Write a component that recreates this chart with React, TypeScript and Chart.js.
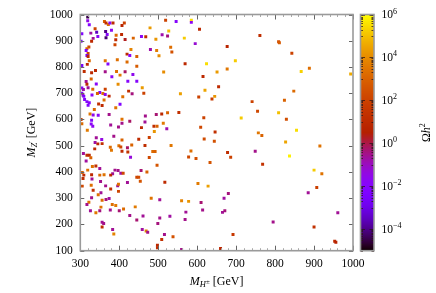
import React, { useEffect, useRef } from "react";
import { Chart, registerables } from "chart.js";

Chart.register(...registerables);

// M_{H±} [GeV]
const mHpm = [
  // right part
  606, 761, 677, 809, 811, 843, 624, 698, 651, 677,
  867, 888, 994, 615, 655, 620, 604, 638, 645, 848,
  741, 824, 755, 809, 713, 829, 617, 609, 646, 757,
  855, 766, 618, 644, 827, 915, 678, 686, 749, 768,
  837, 900, 920, 633, 602, 628, 907, 885, 680, 669,
  610, 614, 665, 671, 961, 795, 900, 692, 660, 953,
  956,
  // middle part
  413, 407, 519, 546, 585, 585, 479, 527, 510, 524,
  406, 415, 436, 457, 468, 494, 567, 595, 480, 496,
  430, 532, 535, 420, 427, 445, 502, 420, 569, 445,
  402, 415, 435, 514, 422, 445, 397, 459, 424, 433,
  463, 409, 557, 402, 524, 553, 467, 495, 509, 407,
  427, 466, 407, 513, 398, 457, 489, 497, 522, 490,
  407, 450, 477, 399, 404, 432, 466, 533, 407, 421,
  422, 429, 486, 492, 477, 584, 578, 597, 497, 397,
  404, 410, 456, 471, 445, 450, 454, 421, 517, 398,
  482, 504, 560, 578, 400, 411, 441, 427, 461, 445,
  504, 530, 571, 569, 499, 459, 469, 473, 516, 538,
  509, 498, 498, 560,
  // left strip
  319, 319, 323, 362, 366, 372, 376, 384, 392, 304,
  327, 338, 342, 345, 333, 366, 365, 380, 369, 302,
  329, 391, 322, 317, 315, 389, 320, 317, 320, 323,
  364, 395, 371, 304, 318, 310, 329, 339, 364, 393,
  381, 328, 315, 317, 304, 308, 320, 332, 364,
  341, 350, 358, 304, 307, 309, 311, 317, 330, 344,
  364, 374, 361, 323, 320, 347, 356, 336, 391, 325,
  333, 346, 374, 302, 304, 329, 328, 332, 378, 318,
  341, 355, 386, 338, 345, 356, 377, 380, 337, 308,
  317, 323, 327, 315, 340, 350, 331, 389, 305, 319,
  309, 307, 305, 329, 330, 328, 333, 322, 317, 326,
  340, 350, 353, 329, 353, 356, 366, 374, 346, 365,
  350, 352, 361, 356, 356, 360, 386, 383, 382, 391,
  377, 378, 396, 398, 383, 378,
];

// M_{Z'} [GeV]
const mZp = [
  944, 920, 878, 896, 892, 852, 812, 824, 781, 792,
  783, 795, 773, 764, 725, 711, 686, 678, 688, 708,
  668, 673, 631, 626, 606, 601, 607, 570, 552, 549,
  559, 539, 526, 517, 514, 499, 474, 456, 479, 429,
  461, 407, 393, 436, 356, 346, 341, 321, 318, 300,
  284, 255, 246, 252, 245, 209, 190, 162, 108, 136,
  132,
  968, 958, 978, 973, 978, 970, 949, 937, 923, 918,
  924, 905, 910, 916, 915, 906, 910, 889, 867, 863,
  867, 875, 857, 849, 844, 840, 843, 819, 812, 803,
  769, 782, 771, 781, 746, 746, 734, 721, 708, 698,
  700, 687, 698, 658, 626, 627, 613, 619, 621, 601,
  593, 590, 586, 586, 571, 569, 574, 574, 565, 554,
  522, 525, 531, 500, 495, 503, 501, 501, 479, 492,
  476, 456, 478, 478, 455, 480, 457, 451, 426, 406,
  395, 395, 406, 400, 380, 380, 365, 360, 361, 326,
  300, 294, 290, 288, 252, 259, 267, 234, 232, 217,
  225, 231, 247, 219, 204, 181, 175, 170, 162, 153,
  143, 121, 111, 105,
  990, 976, 961, 973, 968, 962, 968, 968, 921, 927,
  929, 946, 932, 916, 909, 911, 935, 940, 924, 898,
  898, 904, 876, 870, 863, 885, 851, 844, 840, 824,
  824, 828, 811, 806, 810, 783, 778, 787, 782, 783,
  763, 754, 745, 734, 720, 714, 721, 715, 715,
  735, 703, 699, 700, 692, 688, 676, 668, 693, 699,
  695, 689, 674, 664, 654, 659, 653, 638, 645, 621,
  617, 616, 619, 600, 584, 597, 583, 574, 579, 559,
  530, 524, 536, 512, 507, 508, 494, 483, 488, 470,
  464, 464, 454, 442, 423, 413, 421, 407, 398, 407,
  388, 375, 346, 389, 373, 349, 330, 285, 276, 252,
  245, 252, 266, 302, 321, 292, 295, 299, 313, 347,
  388, 364, 389, 208, 190, 204, 164, 181, 276, 272,
  255, 335, 347, 353, 393, 388,
];

// log10(Omega h^2)
const logOmegaH2 = [
  1, 1.2, 0.8, 2.3, 2.8, 2, 5.5, 5.2, 4.3, 3.5,
  5.3, 3.3, 4.6, 1, 1.1, 4.5, 2, 1.8, 4.2, 3.2,
  2, 3, 2.2, 5, 5.2, 2.4, 2, 2.2, 1.3, 3.5,
  5.5, 3, 2.3, 2.5, 4.5, 3.4, 1.2, 2, -0.5, 1.4,
  5.8, 5.2, 3.4, 2.6, 3.6, 4.4, 1.9, -0.6, -0.4, -0.7,
  -0.3, -0.5, -0.6, -0.4, -0.6, -0.5, 1.3, 1.6, 0.9, 1.1,
  0.7,
  2, 0.8, 2, -2, 5.5, -1.7, 4.3, 5, -0.8, -0.4,
  1, 0.3, 3, -1.8, 1.1, 4.2, 5.2, -1.2, -0.8, 3.6,
  3.8, 3.3, 2.5, 1, -1.8, 3, 4, 3.2, 1, 2.8,
  3.5, -0.2, -1.6, 4, -2, -2, 4, 4.3, 1.2, -0.4,
  2, 3.3, 4.4, -2.2, 3, 1.3, -0.5, -0.3, 1, 3.4,
  -0.2, -0.6, -0.5, 3.6, -0.5, 1, 1.2, 3, -0.8, 4.2,
  3, 1.1, 1.9, 3.4, 2.2, 3, 1.2, 3.5, 1.1, -0.2,
  1.4, -1.3, 3.2, 3, 2.2, 3.3, 2.2, 2.4, 2.6, -0.5,
  -0.7, 2.2, -0.3, 3, 2.1, 2.3, 2.6, -0.6, 1.1, 2.1,
  3.4, -0.6, 3.8, 4.2, -0.3, 3.2, 3.6, -0.5, -0.6, -0.3,
  -0.5, -0.7, -0.6, -0.5, -0.4, -0.7, 3.8, -0.5, -0.5, 2.5,
  1.3, 1, 1.2, -0.5,
  -4.5, -1.5, -2, 3, 1.2, 3.3, -1.8, 1, 3.2, -2.2,
  -0.7, 2, -3.5, -1.8, -0.6, -4.2, -4, -1.6, -1.9, -2.2,
  1, 1.1, 2.2, 3, -2, 2.1, 2, -2.5, 1, 3.2,
  3.4, 3.3, -2, -2.6, 1, 1.2, 1, 0.9, -0.5, 3.3,
  -1.7, 3, -0.6, 1, -2.2, -0.8, -0.6, 3.2, 2,
  -1.9, -1.8, 3.3, -2.3, -1, -2.4, -2, -2.1, -1.8, 3,
  -1.6, 1, 3.3, -1.9, -2.2, 1.3, 1.1, 3.1, 3.4, 3.5,
  -1.6, -1.8, -0.5, 1.8, 3.2, -2, -1.8, -1.7, -0.6, 3.6,
  -0.6, -1.4, -0.5, -0.7, 1, 1.2, 3.2, 3.5, 1.1, -0.6,
  1.2, 1, 3, -0.7, 1.3, -0.6, 3.3, -0.5, 3.2, 3.4,
  1.1, 1.2, 2.2, 1, -0.6, 3.3, 1.3, 3.4, -0.5, -0.6,
  3.5, -0.4, 3.4, -0.5, -0.6, 3.2, -0.4, -0.7, 3.3, -0.5,
  3.1, -0.5, 3.4, -0.6, 1.2, -0.5, 3.8, -0.6, 3.3, 3.6,
  -0.5, 1.2, -0.5, 3.4, -0.6, 1,
];

const xTickValues = [300, 400, 500, 600, 700, 800, 900, 1000];
const yTickValues = [100, 200, 300, 400, 500, 600, 700, 800, 900, 1000];
const xMinorStep = 20;
const cbLabelExponents = [6, 4, 2, 0, -2, -4];
const CB_MIN = -5;
const CB_MAX = 6;

const SERIF = "'Liberation Serif', 'DejaVu Serif', serif";

function gnuplotColor(t: number): string {
  const c = Math.min(1, Math.max(0, t));
  const r = Math.sqrt(c);
  const g = c * c * c;
  const b = Math.max(0, Math.sin(2 * Math.PI * c));
  return `rgb(${Math.round(r * 255)},${Math.round(g * 255)},${Math.round(b * 255)})`;
}

type Seg = { text: string; font: string; dy: number };

function segsWidth(ctx: CanvasRenderingContext2D, segs: Seg[]): number {
  let w = 0;
  for (const s of segs) {
    ctx.font = s.font;
    w += ctx.measureText(s.text).width;
  }
  return w;
}

function drawSegs(ctx: CanvasRenderingContext2D, segs: Seg[], x: number, y: number) {
  let cx = x;
  for (const s of segs) {
    ctx.font = s.font;
    ctx.fillText(s.text, cx, y + s.dy);
    cx += ctx.measureText(s.text).width;
  }
}

const decorPlugin = {
  id: "decor",
  afterDraw(chart: any) {
    const ctx: CanvasRenderingContext2D = chart.ctx;
    const a = chart.chartArea;
    const xs = chart.scales.x;
    const ys = chart.scales.y;
    ctx.save();

    // ticks (inward)
    ctx.lineWidth = 1;
    for (let v = xTickValues[0]; v <= xTickValues[xTickValues.length - 1]; v += xMinorStep) {
      const px = Math.round(xs.getPixelForValue(v)) + 0.5;
      const major = xTickValues.includes(v);
      const len = major ? 5 : 2.5;
      ctx.strokeStyle = major ? "#666" : "#aaa";
      ctx.beginPath();
      ctx.moveTo(px, a.bottom);
      ctx.lineTo(px, a.bottom - len);
      ctx.moveTo(px, a.top);
      ctx.lineTo(px, a.top + len);
      ctx.stroke();
    }
    for (const v of yTickValues) {
      const py = Math.round(ys.getPixelForValue(v)) + 0.5;
      ctx.strokeStyle = "#666";
      ctx.beginPath();
      ctx.moveTo(a.left, py);
      ctx.lineTo(a.left + 4, py);
      ctx.moveTo(a.right, py);
      ctx.lineTo(a.right - 4, py);
      ctx.stroke();
    }

    // frame
    ctx.strokeStyle = "#9a9a9a";
    ctx.lineWidth = 1.6;
    ctx.strokeRect(a.left, a.top, a.right - a.left, a.bottom - a.top);

    // colour bar
    const cbx0 = a.right + 7.5;
    const cbx1 = a.right + 21;
    const h = a.bottom - a.top;
    const yForExp = (e: number) => a.bottom - ((e - CB_MIN) / (CB_MAX - CB_MIN)) * h;
    for (let py = Math.floor(a.top); py < a.bottom; py++) {
      const t = (a.bottom - (py + 0.5)) / h;
      ctx.fillStyle = gnuplotColor(t);
      ctx.fillRect(cbx0, py, cbx1 - cbx0, 1);
    }
    ctx.lineWidth = 1;
    ctx.strokeStyle = "rgba(40,20,20,0.75)";
    for (const e of cbLabelExponents) {
      const py = Math.round(yForExp(e)) + 0.5;
      ctx.beginPath();
      ctx.moveTo(cbx0, py);
      ctx.lineTo(cbx0 + 4.5, py);
      ctx.moveTo(cbx1, py);
      ctx.lineTo(cbx1 - 4.5, py);
      ctx.stroke();
      for (let k = 1; k <= 9; k++) {
        const em = e - 1 + Math.log10(k);
        if (em < CB_MIN) continue;
        const pm = Math.round(yForExp(em)) + 0.5;
        ctx.beginPath();
        ctx.moveTo(cbx0, pm);
        ctx.lineTo(cbx0 + 2.5, pm);
        ctx.moveTo(cbx1, pm);
        ctx.lineTo(cbx1 - 2.5, pm);
        ctx.stroke();
      }
    }
    ctx.strokeStyle = "#9a9a9a";
    ctx.lineWidth = 1.6;
    ctx.strokeRect(cbx0, a.top, cbx1 - cbx0, h);

    // colour bar labels
    ctx.fillStyle = "#000";
    ctx.textBaseline = "alphabetic";
    ctx.textAlign = "left";
    for (const e of cbLabelExponents) {
      const py = yForExp(e);
      const exp = e < 0 ? "\u2212" + Math.abs(e) : String(e);
      drawSegs(
        ctx,
        [
          { text: "10", font: `11.5px ${SERIF}`, dy: 0 },
          { text: exp, font: `8px ${SERIF}`, dy: -4.8 },
        ],
        a.right + 28.5,
        py + 3.8
      );
    }

    // axis titles
    const big = `12px ${SERIF}`;
    const bigIt = `italic 12px ${SERIF}`;
    const subIt = `italic 8.5px ${SERIF}`;
    const small = `7px ${SERIF}`;

    const xTitle: Seg[] = [
      { text: "M", font: bigIt, dy: 0 },
      { text: "H", font: subIt, dy: 2.4 },
      { text: "\u00b1", font: small, dy: -1.5 },
      { text: " [GeV]", font: big, dy: 0 },
    ];
    const cx = (a.left + a.right) / 2;
    const wx = segsWidth(ctx, xTitle);
    drawSegs(ctx, xTitle, cx - wx / 2, 285);

    const yTitle: Seg[] = [
      { text: "M", font: bigIt, dy: 0 },
      { text: "Z", font: subIt, dy: 2.4 },
      { text: "\u2032", font: small, dy: -2.5 },
      { text: " [GeV]", font: big, dy: 0 },
    ];
    const cy = (a.top + a.bottom) / 2;
    const wy = segsWidth(ctx, yTitle);
    ctx.save();
    ctx.translate(35, cy);
    ctx.rotate(-Math.PI / 2);
    drawSegs(ctx, yTitle, -wy / 2, 0);
    ctx.restore();

    const cbTitle: Seg[] = [
      { text: "\u03a9", font: big, dy: 0 },
      { text: "h", font: bigIt, dy: 0 },
      { text: "2", font: `8px ${SERIF}`, dy: -5 },
    ];
    const wc = segsWidth(ctx, cbTitle);
    ctx.save();
    ctx.translate(429.5, cy);
    ctx.rotate(-Math.PI / 2);
    drawSegs(ctx, cbTitle, -wc / 2, 0);
    ctx.restore();

    ctx.restore();
  },
};

export default function App() {
  const ref = useRef<HTMLCanvasElement>(null);

  useEffect(() => {
    const canvas = ref.current;
    if (!canvas) return;
    const n = Math.min(mHpm.length, mZp.length, logOmegaH2.length);
    const pts: { x: number; y: number }[] = [];
    const cols: string[] = [];
    for (let i = 0; i < n; i++) {
      pts.push({ x: mHpm[i], y: mZp[i] });
      cols.push(gnuplotColor((logOmegaH2[i] - CB_MIN) / (CB_MAX - CB_MIN)));
    }

    const tickFont = { family: SERIF, size: 11.5 };

    const chart = new Chart(canvas, {
      type: "scatter",
      data: {
        datasets: [
          {
            data: pts,
            pointStyle: "rect",
            pointRadius: 2.1,
            pointHoverRadius: 2.1,
            pointBorderWidth: 0,
            borderWidth: 0,
            pointBackgroundColor: cols,
            backgroundColor: cols,
          } as any,
        ],
      },
      options: {
        animation: false,
        responsive: false,
        maintainAspectRatio: false,
        devicePixelRatio: 1,
        events: [],
        layout: { padding: { left: 0, right: 83, top: 14, bottom: 0 } },
        plugins: { legend: { display: false }, tooltip: { enabled: false } },
        scales: {
          x: {
            type: "linear",
            min: 300,
            max: 1000,
            afterBuildTicks: (s: any) => {
              s.ticks = xTickValues.map((v) => ({ value: v }));
            },
            afterFit: (s: any) => {
              s.height = 42.3;
            },
            grid: { display: false, drawTicks: false },
            border: { display: false },
            ticks: {
              padding: 6,
              font: tickFont,
              color: "#000",
              maxRotation: 0,
              autoSkip: false,
              callback: (v: any) => String(v),
            },
          },
          y: {
            type: "linear",
            min: 100,
            max: 1000,
            afterBuildTicks: (s: any) => {
              s.ticks = yTickValues.map((v) => ({ value: v }));
            },
            afterFit: (s: any) => {
              s.width = 80.3;
            },
            grid: { display: false, drawTicks: false },
            border: { display: false },
            ticks: {
              padding: 7.6,
              font: tickFont,
              color: "#000",
              autoSkip: false,
              callback: (v: any) => String(v),
            },
          },
        },
      } as any,
      plugins: [decorPlugin],
    });

    return () => chart.destroy();
  }, []);

  return (
    <div style={{ position: "fixed", left: 0, top: 0, width: 436, height: 293, background: "#fff" }}>
      <canvas ref={ref} width={436} height={293} style={{ display: "block", width: 436, height: 293 }} />
    </div>
  );
}
